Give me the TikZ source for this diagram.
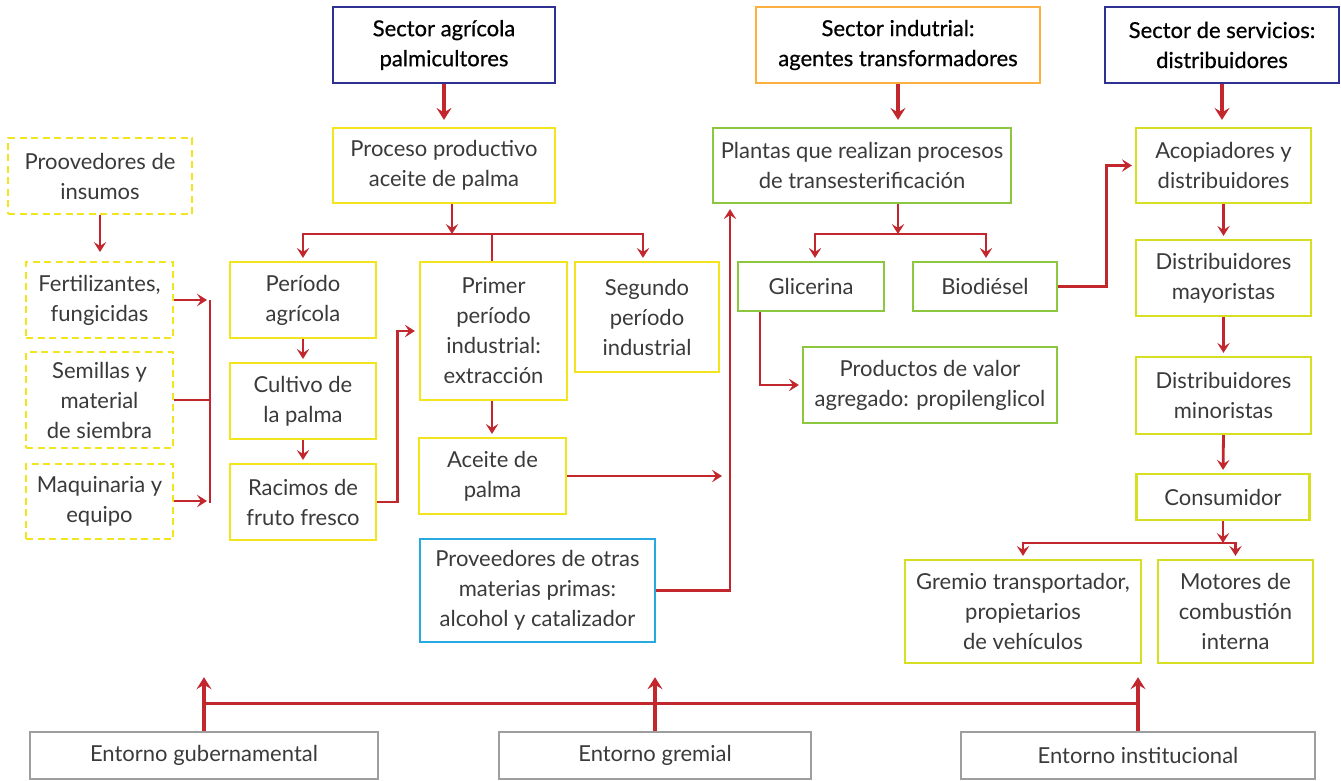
\documentclass[tikz,border=0pt]{standalone}
\usepackage{fontspec}
\setmainfont{Lato}
\newfontfamily\titlefont[FakeBold=0.6]{Lato}
\usetikzlibrary{arrows.meta}

\definecolor{flow}{HTML}{C1272D}
\definecolor{txt}{HTML}{3A3A3A}
\definecolor{ylw}{HTML}{F2E51E}
\definecolor{lime}{HTML}{D7DF23}
\definecolor{grn}{HTML}{8DC63F}
\definecolor{navy}{HTML}{2E3192}
\definecolor{orng}{HTML}{FBB040}
\definecolor{cyan2}{HTML}{27AAE1}
\definecolor{gry}{HTML}{9E9E9E}

\begin{document}
\begin{tikzpicture}[x=1pt,y=-1pt,
  every node/.style={font=\fontsize{22}{30}\selectfont, text=txt, align=center, inner sep=0pt},
  box/.style={draw=#1, line width=2.2pt, rectangle},
  dbox/.style={draw=#1, line width=2pt, rectangle, dash pattern=on 7pt off 4.5pt},
  sz/.style 2 args={minimum width=#1pt, minimum height=#2pt},
  title/.style={font=\titlefont\fontsize{22}{30}\selectfont, text=black},
  arr/.style={draw=flow, line width=2.8pt,
    -{Stealth[length=10pt,width=12.5pt,inset=4pt]}, shorten >=3pt},
  arrthick/.style={draw=flow, line width=4pt,
    -{Stealth[length=12pt,width=15pt,inset=4.5pt]}},
  redline/.style={draw=flow, line width=2.8pt},
  thickline/.style={draw=flow, line width=3.4pt}
]
\useasboundingbox (0,0) rectangle (1341,780);

% sector headers
\node[box=navy, sz={222}{76}, title] (tA) at (444,45) {Sector agrícola\\palmicultores};
\node[box=orng, sz={284}{76}, title] (tI) at (898,45) {Sector indutrial:\\agentes transformadores};
\node[box=navy, sz={234}{76}, title] (tS) at (1222,45) {Sector de servicios:\\distribuidores};

% agricultural sector
\node[box=ylw, sz={222}{75}] (proc) at (444,165.5) {Proceso productivo\\aceite de palma};
\node[dbox=ylw, sz={184}{76}] (insumos) at (100,176) {Proovedores de\\insumos};
\node[dbox=ylw, sz={147}{76}] (fert) at (99.5,300) {Fertilizantes,\\fungicidas};
\node[dbox=ylw, sz={147}{96}] (semillas) at (99.5,400) {Semillas y\\material\\de siembra};
\node[dbox=ylw, sz={147}{75}] (maq) at (99.5,501.5) {Maquinaria y\\equipo};

\node[box=ylw, sz={146}{76}] (periodo) at (303,300) {Período\\agrícola};
\node[box=ylw, sz={146}{76}] (cultivo) at (303,401) {Cultivo de\\la palma};
\node[box=ylw, sz={146}{76}] (racimos) at (303,502) {Racimos de\\fruto fresco};

\node[box=ylw, sz={147}{138}] (primer) at (493.5,331) {Primer\\período\\industrial:\\extracción};
\node[box=ylw, sz={144}{110}] (segundo) at (647,317) {Segundo\\período\\industrial};
\node[box=ylw, sz={147}{76}] (aceite) at (492.5,476) {Aceite de\\palma};
\node[box=cyan2, sz={235}{103}] (otras) at (537.5,590.5) {Proveedores de otras\\materias primas:\\alcohol y catalizador};

% industrial sector
\node[box=grn, sz={298}{75}] (plantas) at (862,165.5) {Plantas que realizan procesos\\de transesterificación};
\node[box=grn, sz={146}{49}] (glic) at (811,286.5) {Glicerina};
\node[box=grn, sz={144}{49}] (bio) at (985,286.5) {Biodiésel};
\node[box=grn, sz={254}{76}] (prod) at (930,385) {Productos de valor\\agregado: propilenglicol};

% services sector
\node[box=lime, sz={175}{75}] (acop) at (1223.5,165.5) {Acopiadores y\\distribuidores};
\node[box=lime, sz={175}{76}] (may) at (1223.5,278) {Distribuidores\\mayoristas};
\node[box=lime, sz={175}{77}] (min) at (1223.5,395.5) {Distribuidores\\minoristas};
\node[box=lime, sz={173}{46}] (cons) at (1223,497) {Consumidor};
\node[box=lime, sz={236}{103}] (gremio) at (1023,611.5) {Gremio transportador,\\propietarios\\de vehículos};
\node[box=lime, sz={155}{103}] (motores) at (1235.5,611.5) {Motores de\\combustión\\interna};

% environment
\node[box=gry, line width=1.6pt, sz={348}{47}] (gub) at (204,755.5) {Entorno gubernamental};
\node[box=gry, line width=1.6pt, sz={312}{47}] (grem) at (655,755.5) {Entorno gremial};
\node[box=gry, line width=1.6pt, sz={354}{47}] (inst) at (1138,755.5) {Entorno institucional};

% header arrows
\draw[arrthick, shorten >=7pt] (tA.south) -- (proc.north);
\draw[arrthick, shorten >=7pt] (tI.south) -- (tI.south |- plantas.north);
\draw[arrthick, shorten >=7pt] (tS.south) -- (tS.south |- acop.north);

% inputs
\draw[arr, shorten >=9pt] (insumos.south) -- (insumos.south |- fert.north);
\coordinate (brT) at (210,300);
\coordinate (brB) at (210,503);
\draw[redline] (brT) -- (brB);
\draw[arr] (fert.east) -- (brT);
\draw[redline] (semillas.east) -- (semillas.east -| brT);
\draw[arr] (maq.east |- 0,501) -- (brT |- 0,501);

% palm oil process
\coordinate (pb) at (452,234);
\draw[arr, shorten >=0pt] (proc.south -| pb) -- (pb);
\draw[arr] (pb) -| (periodo.north);
\draw[arr] (pb) -| ([xshift=-4pt]segundo.north);
\draw[redline] (pb) -| ([xshift=-1.5pt]primer.north);
\draw[arr] (periodo.south) -- (cultivo.north);
\draw[arr] (cultivo.south) -- (racimos.north);
\draw[arr, shorten >=4pt] (racimos.east) -- ++(20,0) |- (primer.west);
\draw[arr] ([xshift=-1.5pt]primer.south) -- ([xshift=-1.5pt]primer.south |- aceite.north);

% towards the transesterification plants
\coordinate (vx) at (730,476);
\draw[arr, shorten >=8pt] (aceite.east) -- (vx);
\draw[arr, shorten >=5pt] (otras.east) -| (vx |- plantas.south);

% industrial products
\coordinate (gb) at (898,234);
\draw[arr, shorten >=0pt] (plantas.south -| gb) -- (gb);
\draw[arr] (gb) -| ([xshift=4pt]glic.north);
\draw[arr] (gb) -| ([xshift=1pt]bio.north);
\draw[arr] ([xshift=-51pt]glic.south) |- (prod.west);
\draw[arr] (bio.east) -- ++(48,0) |- (acop.west);

% distribution chain
\draw[arr] (acop.south) -- (may.north);
\draw[arr] (may.south) -- (min.north);
\draw[arr] (min.south) -- (cons.north);
\coordinate (cb) at (1223,543);
\draw[arr, shorten >=0pt] (cons.south) -- (cb);
\draw[arr] (cb) -| (gremio.north);
\draw[arr] (cb) -| (motores.north);

% environment links
\draw[arrthick] (gub.north) -- ++(0,-54);
\draw[arrthick] (grem.north) -- ++(0,-54);
\draw[arrthick] (inst.north) -- ++(0,-54);
\draw[thickline] ([yshift=28pt]gub.north) -- ([yshift=28pt]inst.north);
\end{tikzpicture}
\end{document}
